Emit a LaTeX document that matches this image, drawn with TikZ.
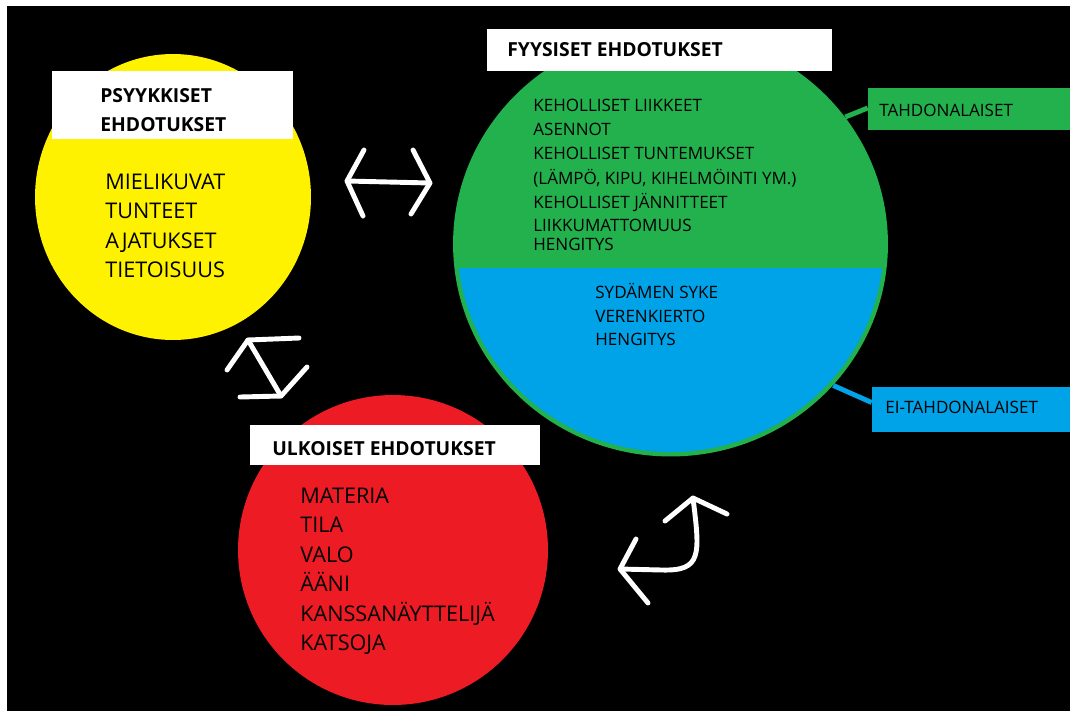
\documentclass[tikz,border=0pt]{standalone}
\usepackage{fontspec}
\setmainfont{Open Sans}
\usetikzlibrary{calc,shapes.geometric}

\definecolor{paintyellow}{RGB}{255,242,0}
\definecolor{paintgreen}{RGB}{34,177,76}
\definecolor{paintblue}{RGB}{0,162,232}
\definecolor{paintred}{RGB}{237,28,36}

\begin{document}
\begin{tikzpicture}[x=0.02cm, y=-0.02cm,
    titlebox/.style={rectangle, fill=white, inner sep=0pt},
    sidebox/.style={rectangle, inner sep=0pt},
    title/.style={anchor=base west, inner sep=0pt, font=\bfseries\fontsize{11}{13}\selectfont},
    bigitem/.style={anchor=base west, inner sep=0pt, font=\fontsize{12.3}{14}\selectfont},
    smallitem/.style={anchor=base west, inner sep=0pt, font=\fontsize{9.7}{11}\selectfont}
    ]
    \tikzset{whitearrow/.style={draw=white, line width=2.8pt, line cap=round, line join=round}}
    \tikzset{leader/.style={line width=2.8pt}}
    %
    %background
    %
    \useasboundingbox (0,0) rectangle (1070,711);
    \fill[white] (0,0) rectangle (1070,711);
    \fill[black] (7,6) rectangle (1070,711);
    %
    %circles
    %
    \node[ellipse, fill=paintyellow, minimum width=5.52cm, minimum height=5.72cm] (psycircle) at (173,197) {};
    \node[ellipse, fill=paintgreen, minimum width=8.7cm, minimum height=8.5cm, inner sep=0pt] (fyycircle) at (670.5,244) {};
    \begin{scope}
        \clip (440,268) rectangle (900,470);
        \fill[paintblue] (fyycircle.center) ellipse[x radius=213, y radius=208];
    \end{scope}
    \node[circle, fill=paintred, minimum size=6.2cm, inner sep=0pt] (ulkcircle) at (393,550) {};
    %
    %boxes
    %
    \node[titlebox, minimum width=4.82cm, minimum height=1.36cm] (psybox) at (172.5,105) {};
    \node[titlebox, minimum width=6.9cm, minimum height=0.84cm] (fyybox) at (659.5,50) {};
    \node[titlebox, minimum width=5.8cm, minimum height=0.8cm] (ulkbox) at (395,445) {};
    \node[sidebox, fill=paintgreen, minimum width=4.04cm, minimum height=0.84cm] (tahbox) at (969,109) {};
    \node[sidebox, fill=paintblue, minimum width=3.96cm, minimum height=0.9cm] (eibox) at (971,409.5) {};
    %
    %leaders
    %
    \draw[leader, paintgreen] (fyycircle.36) -- ($(tahbox.west)+(0,-1)$);
    \draw[leader, paintblue] (fyycircle.-41) -- ($(eibox.west)+(0,-7)$);
    %
    %titles
    %
    \node[title] (psytitle) at (100,102) {PSYYKKISET};
    \node[title] (psytitleb) at (100,131.5) {EHDOTUKSET};
    \node[title] (fyytitle) at (507,56) {FYYSISET EHDOTUKSET};
    \node[title] (ulktitle) at (272,455) {ULKOISET EHDOTUKSET};
    \node[smallitem] (tahlabel) at (879,116) {TAHDONALAISET};
    \node[smallitem] (eilabel) at (885,413) {EI-TAHDONALAISET};
    %
    %lists
    %
    \node[bigitem] (psya) at (105,189) {MIELIKUVAT};
    \node[bigitem] (psyb) at (105,218.5) {TUNTEET};
    \node[bigitem] (psyc) at (105,248) {AJATUKSET};
    \node[bigitem] (psyd) at (105,277.5) {TIETOISUUS};
    %
    \node[smallitem] (fyya) at (533,111.7) {KEHOLLISET LIIKKEET};
    \node[smallitem] (fyyb) at (533,135.7) {ASENNOT};
    \node[smallitem] (fyyc) at (533,159.5) {KEHOLLISET TUNTEMUKSET};
    \node[smallitem] (fyyd) at (533,184) {(LÄMPÖ, KIPU, KIHELMÖINTI YM.)};
    \node[smallitem] (fyye) at (533,208) {KEHOLLISET JÄNNITTEET};
    \node[smallitem] (fyyf) at (533,231.7) {LIIKKUMATTOMUUS};
    \node[smallitem] (fyyg) at (533,250) {HENGITYS};
    %
    \node[smallitem] (eia) at (595,298) {SYDÄMEN SYKE};
    \node[smallitem] (eib) at (595,322.3) {VERENKIERTO};
    \node[smallitem] (eic) at (595,345.5) {HENGITYS};
    %
    \node[bigitem] (ulka) at (300,503) {MATERIA};
    \node[bigitem] (ulkb) at (300,532.5) {TILA};
    \node[bigitem] (ulkc) at (300,562) {VALO};
    \node[bigitem] (ulkd) at (300,591.5) {ÄÄNI};
    \node[bigitem] (ulke) at (300,621) {KANSSANÄYTTELIJÄ};
    \node[bigitem] (ulkf) at (300,650.5) {KATSOJA};
    %
    %arrows
    %
    \coordinate (h1l) at (347,181);
    \coordinate (h1r) at (430,183);
    \coordinate (h2t) at (248,340);
    \coordinate (h2b) at (281,396);
    \coordinate (h3t) at (693,498);
    \coordinate (h3l) at (620,569);
    \draw[whitearrow] (h1l) -- (h1r);
    \draw[whitearrow] ([shift={(17,-31)}]h1l) -- (h1l) -- +(16,35);
    \draw[whitearrow] ([shift={(-17,-33)}]h1r) -- (h1r) -- +(-19,31);
    \draw[whitearrow] (h2t) -- (h2b);
    \draw[whitearrow] ([shift={(51,-2)}]h2t) -- (h2t) -- +(-21,30);
    \draw[whitearrow] ([shift={(-41,1)}]h2b) -- (h2b) -- +(26,-29);
    \draw[whitearrow] (h3t) .. controls (700,555) and (702,571) .. (662,570) -- (h3l);
    \draw[whitearrow] ([shift={(-28,23)}]h3t) -- (h3t) -- +(34,16);
    \draw[whitearrow] ([shift={(16,-30)}]h3l) -- (h3l) -- +(28,34);
\end{tikzpicture}
\end{document}
